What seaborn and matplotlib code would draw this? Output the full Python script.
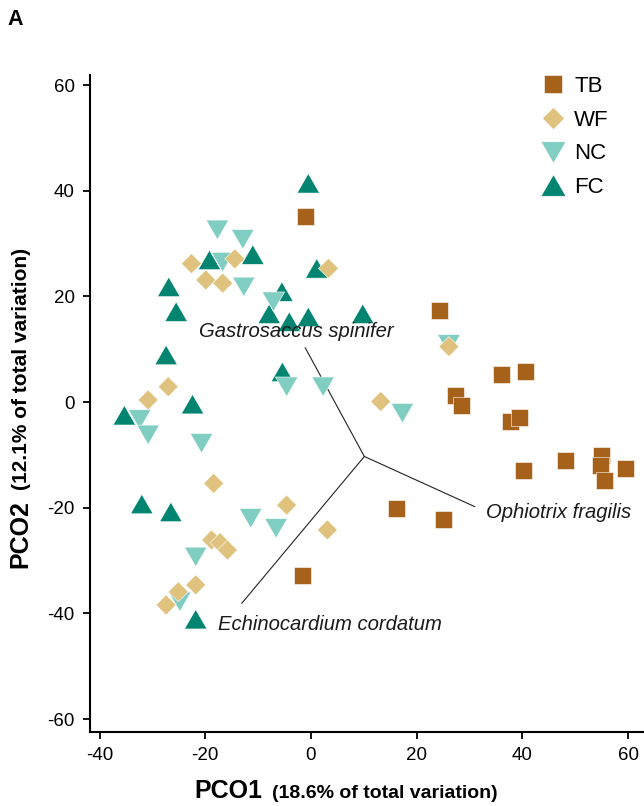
import matplotlib
matplotlib.use("Agg")
import matplotlib.pyplot as plt
from matplotlib.markers import MarkerStyle
import pandas as pd
import seaborn as sns

# Site groups and colours
groups = ["TB", "WF", "NC", "FC"]
colors = ["#a6611a", "#dfc27d", "#80cdc1", "#018571"]

# PCO scores per group
tb_x = [-1.0, 24.3, 36.0, 40.6, 27.3, 28.4, 37.7, 39.4, 40.2, 48.1, 54.9, 54.7, 55.6, 59.5, 16.1, 25.0, -1.6]
tb_y = [35.1, 17.4, 5.2, 5.8, 1.3, -0.6, -3.7, -2.9, -13.0, -11.0, -10.2, -12.1, -14.8, -12.5, -20.2, -22.3, -32.8]

wf_x = [-22.6, -14.4, -19.9, -16.7, 3.3, 26.1, -27.0, -30.8, 13.2, -18.4, -4.6, 3.1, -18.8, -17.2, -15.8, -21.8, -25.1, -27.4]
wf_y = [26.2, 27.1, 23.1, 22.5, 25.3, 10.5, 2.9, 0.4, 0.1, -15.4, -19.5, -24.2, -26.1, -26.6, -28.0, -34.6, -35.9, -38.4]

nc_x = [-17.7, -12.9, -16.7, -12.7, -7.1, -4.6, 2.3, 26.1, 17.3, -32.4, -30.8, -20.7, -11.4, -6.6, -21.8, -24.8]
nc_y = [32.6, 30.8, 26.5, 21.8, 19.0, 2.9, 2.9, 10.9, -2.1, -3.3, -6.2, -7.8, -22.0, -23.9, -29.3, -37.8]

fc_x = [-0.5, -11.0, -19.2, 1.1, -26.9, -25.5, -5.5, -7.9, -4.1, -0.5, 9.8, -27.4, -5.4, -22.4, -35.3, -32.0, -26.5, -21.8]
fc_y = [41.4, 27.9, 26.9, 25.3, 21.8, 17.1, 20.9, 16.7, 15.2, 16.1, 16.7, 8.9, 5.7, -0.4, -2.5, -19.3, -20.8, -41.1]

# Species vectors (biplot overlay)
vec_origin = (10.1, -10.3)
species = ["Gastrosaccus spinifer", "Ophiotrix fragilis", "Echinocardium cordatum"]
vec_end_x = [-1.1, 31.0, -13.1]
vec_end_y = [10.3, -19.8, -38.1]
label_x = [-21.2, 33.1, -17.6]
label_y = [12.4, -21.9, -43.1]

x_ticks = [-40, -20, 0, 20, 40, 60]
y_ticks = [-60, -40, -20, 0, 20, 40, 60]

sns.set_style("ticks")
plt.rcParams["font.family"] = ["Liberation Sans", "DejaVu Sans"]
plt.rcParams["axes.unicode_minus"] = False
for key in ["text.color", "axes.labelcolor", "xtick.color", "ytick.color"]:
    plt.rcParams[key] = "black"

# draw order: FC, NC, WF, TB
frames = []
for name, xs, ys in [("FC", fc_x, fc_y), ("NC", nc_x, nc_y), ("WF", wf_x, wf_y), ("TB", tb_x, tb_y)]:
    frames.append(pd.DataFrame({"PCO1": xs, "PCO2": ys, "group": name}))
df = pd.concat(frames, ignore_index=True)

tri_up = MarkerStyle([(-1, -0.866), (1, -0.866), (0, 0.866), (-1, -0.866)])
tri_down = MarkerStyle([(-1, 0.866), (1, 0.866), (0, -0.866), (-1, 0.866)])
markers = {"TB": "s", "WF": "D", "NC": tri_down, "FC": tri_up}
sizes = {"TB": 150, "WF": 104, "NC": 262, "FC": 262}
palette = dict(zip(groups, colors))

fig = plt.figure(figsize=(6.44, 8.06), dpi=100)
ax = fig.add_axes([90 / 644, 74.5 / 806, 554 / 644, 656.5 / 806])

# species vectors
for ex, ey in zip(vec_end_x, vec_end_y):
    ax.plot([vec_origin[0], ex], [vec_origin[1], ey], color="#222222", lw=0.8, zorder=1)

sns.scatterplot(
    data=df, x="PCO1", y="PCO2",
    hue="group", style="group", size="group",
    hue_order=groups, style_order=groups, size_order=groups,
    palette=palette, markers=markers, sizes=sizes,
    edgecolor="white", linewidth=0.4, alpha=1, ax=ax, legend="full", zorder=2,
)

for name, tx, ty in zip(species, label_x, label_y):
    ax.text(tx, ty, name, fontsize=14.6, style="italic", color="#1a1a1a",
            ha="left", va="baseline", zorder=3)

ax.set_xlim(-41.8, 63.0)
ax.set_ylim(-62.35, 61.9)
ax.set_xticks(x_ticks)
ax.set_yticks(y_ticks)
ax.set_xlabel("")
ax.set_ylabel("")
sns.despine(ax=ax)
for side in ["left", "bottom"]:
    ax.spines[side].set_linewidth(1.5)
    ax.spines[side].set_color("black")
ax.tick_params(direction="out", length=5, width=1.3, pad=6, labelsize=13.5,
               colors="black")

handles, labels = ax.get_legend_handles_labels()
keep = [(h, l) for h, l in zip(handles, labels) if l in groups]
ax.legend([h for h, _ in keep], [l for _, l in keep],
          loc="upper left", bbox_to_anchor=(543 / 644, 1 - 76 / 806),
          bbox_transform=fig.transFigure, frameon=False, fontsize=16,
          handlelength=0.9, handletextpad=0.5, labelspacing=0.57,
          borderpad=0, borderaxespad=0, markerscale=1.1)

# x axis title
t1 = fig.text(194 / 644, 1 - 798 / 806, "PCO1", fontsize=18, fontweight="bold",
              ha="left", va="baseline")
ax.annotate("(18.6% of total variation)", xy=(1, 1 - 798 / 806),
            xycoords=(t1, "figure fraction"), xytext=(7, 0),
            textcoords="offset points", fontsize=14, fontweight="bold",
            ha="left", va="baseline")

# y axis title
t2 = fig.text(27 / 644, 1 - 568 / 806, "PCO2", fontsize=18, fontweight="bold",
              rotation=90, rotation_mode="anchor", ha="left", va="baseline")
ax.annotate("(12.1% of total variation)", xy=(27 / 644, 1),
            xycoords=("figure fraction", t2), xytext=(0, 7),
            textcoords="offset points", fontsize=15, fontweight="bold",
            rotation=90, rotation_mode="anchor", ha="left", va="baseline")

fig.text(7 / 644, 1 - 25 / 806, "A", fontsize=15.5, fontweight="bold",
         ha="left", va="baseline")

fig.savefig("out.png", dpi=100)
